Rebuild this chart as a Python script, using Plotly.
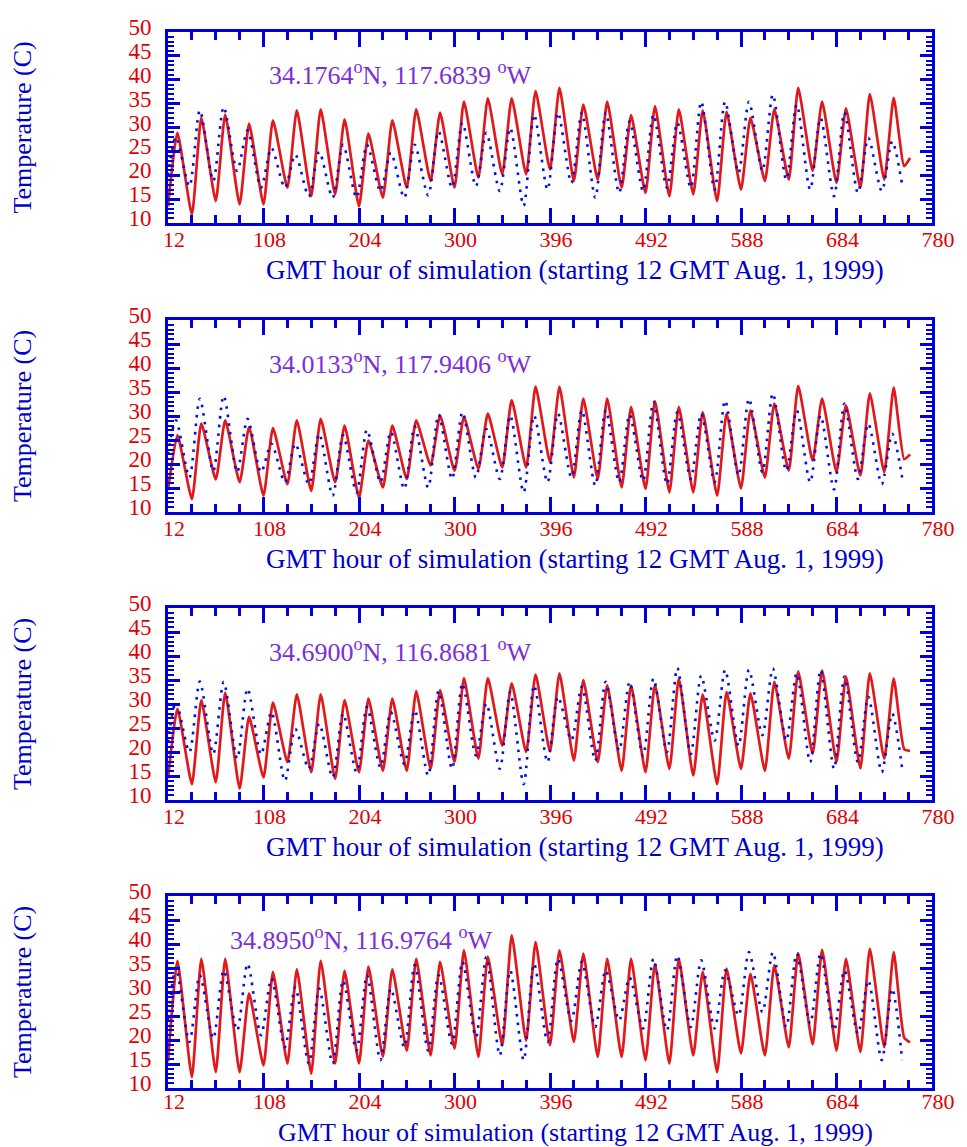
import plotly.graph_objects as go

# ---------------- data ----------------
N_DAYS = 31
START_HOUR = 12
RED_PEAK_H0, RED_TROUGH_H0 = 21.5, 36.0
BLUE_PEAK_H0, BLUE_TROUGH_H0 = 20.0, 33.5
RED_TAIL_HOURS = [752, 758]
BLUE_END_HOUR = 750

LABELS = [
    "34.1764<sup>o</sup>N, 117.6839 <sup>o</sup>W",
    "34.0133<sup>o</sup>N, 117.9406 <sup>o</sup>W",
    "34.6900<sup>o</sup>N, 116.8681 <sup>o</sup>W",
    "34.8950<sup>o</sup>N, 116.9764 <sup>o</sup>W",
]

# Panel 1
R1_START = 13.5
R1_MAX = [28.9, 32.0, 32.7, 30.8, 31.5, 33.6, 33.8, 31.7, 28.7, 31.5, 33.8, 33.1, 35.4, 36.1, 36.1, 37.6,
          38.3, 34.8, 35.4, 32.6, 34.5, 33.8, 33.6, 33.3, 32.0, 33.8, 38.3, 35.4, 34.0, 37.0, 36.2]
R1_MIN = [11.8, 14.6, 13.9, 13.9, 17.4, 15.6, 16.0, 13.5, 15.3, 17.4, 18.8, 17.4, 19.5, 20.2, 20.2,
          21.2, 18.8, 19.1, 17.4, 16.3, 15.6, 16.0, 14.6, 17.0, 18.8, 19.1, 20.9, 18.4, 17.4, 19.1]
R1_TAIL = [21.9, 23.6]
B1_START, B1_END = 20.0, 18.0
B1_MAX = [28.0, 33.6, 34.3, 29.4, 25.7, 24.3, 24.9, 26.4, 26.4, 24.7, 26.4, 29.2, 31.0, 28.9, 29.9, 32.7,
          33.1, 33.1, 33.1, 31.3, 32.7, 31.0, 35.4, 35.4, 35.4, 36.9, 34.8, 32.0, 33.1, 27.8, 27.1]
B1_MIN = [17.7, 18.8, 20.9, 17.4, 17.4, 15.6, 15.3, 15.3, 16.7, 15.3, 15.8, 17.4, 17.7, 16.7, 13.6,
          17.0, 18.4, 15.3, 16.3, 16.7, 17.4, 17.4, 17.0, 20.5, 20.9, 19.1, 17.0, 15.6, 16.3, 16.7]

# Panel 2
R2_START = 14.5
R2_MAX = [26.0, 28.4, 29.1, 27.7, 27.5, 29.1, 29.4, 28.0, 24.9, 28.0, 29.1, 30.1, 29.8, 30.5, 33.3, 36.1,
          36.1, 33.6, 33.6, 31.9, 33.1, 31.9, 30.8, 30.5, 31.2, 32.6, 36.3, 33.6, 32.2, 34.7, 35.9]
R2_MIN = [12.7, 16.8, 16.2, 13.4, 15.8, 14.4, 16.2, 13.0, 15.1, 16.9, 19.7, 18.6, 19.0, 19.3, 19.3,
          20.4, 17.2, 16.9, 15.1, 14.8, 14.1, 14.1, 13.4, 14.9, 17.2, 18.6, 20.7, 18.3, 17.6, 18.3]
R2_TAIL = [21.0, 22.0]
B2_START, B2_END = 22.0, 17.2
B2_MAX = [29.1, 33.6, 34.2, 29.4, 24.2, 24.2, 26.3, 26.0, 27.1, 26.7, 27.8, 30.3, 30.8, 27.3, 30.1, 30.1,
          30.5, 31.2, 31.2, 30.3, 32.9, 30.8, 30.5, 33.2, 33.6, 34.7, 31.2, 30.1, 32.6, 28.4, 26.3]
B2_MIN = [17.2, 18.5, 18.3, 18.3, 16.2, 15.8, 13.4, 14.1, 16.2, 14.8, 15.1, 16.9, 17.2, 16.9, 14.1,
          16.2, 17.2, 15.5, 16.2, 16.5, 15.8, 16.9, 16.2, 17.6, 18.3, 18.6, 16.2, 14.7, 16.9, 15.8]

# Panel 3
R3_START = 14.5
R3_MAX = [29.0, 30.8, 32.4, 27.3, 30.3, 32.0, 32.0, 30.8, 31.1, 31.1, 32.7, 32.9, 35.4, 35.4, 34.3, 36.1,
          36.4, 35.0, 33.9, 33.9, 34.0, 35.3, 32.0, 32.5, 32.2, 34.6, 36.8, 37.0, 35.7, 36.4, 35.3]
R3_MIN = [13.3, 13.7, 12.4, 14.7, 17.9, 15.8, 14.4, 15.8, 16.1, 16.1, 16.5, 17.9, 18.6, 21.3, 20.0,
          20.1, 18.2, 17.9, 16.1, 15.8, 16.5, 15.1, 13.3, 16.5, 16.1, 18.6, 19.6, 17.9, 16.6, 18.6]
R3_TAIL = [20.6, 20.2]
B3_START, B3_END = 22.0, 16.5
B3_MAX = [30.4, 34.7, 34.6, 33.2, 28.3, 24.8, 25.9, 28.0, 29.4, 28.3, 28.7, 32.7, 34.3, 30.1, 32.5, 33.9,
          31.5, 33.6, 34.6, 34.6, 35.3, 37.5, 35.9, 37.1, 37.1, 37.4, 36.4, 37.1, 35.7, 31.5, 28.0]
B3_MIN = [20.0, 19.6, 18.6, 19.5, 14.0, 16.5, 14.7, 15.8, 16.8, 17.5, 15.1, 16.5, 19.3, 16.5, 13.3,
          17.9, 22.5, 18.2, 20.3, 19.2, 20.0, 19.6, 22.4, 21.3, 23.5, 22.4, 17.9, 16.5, 17.9, 15.8]

# Panel 4
R4_START = 15.5
R4_MAX = [36.5, 36.9, 36.9, 29.7, 34.2, 34.7, 36.5, 34.4, 35.3, 34.7, 36.9, 36.3, 38.7, 37.4, 41.8, 40.4,
          38.7, 38.0, 36.9, 36.9, 35.8, 36.9, 34.2, 34.9, 33.8, 35.6, 38.1, 38.8, 36.9, 39.0, 38.3]
R4_MIN = [12.3, 13.3, 13.3, 14.7, 15.1, 13.0, 15.1, 15.1, 16.5, 17.8, 16.8, 18.2, 16.5, 18.9, 19.9,
          18.9, 19.6, 16.5, 16.5, 15.8, 15.1, 16.8, 13.3, 17.2, 16.8, 18.5, 19.1, 17.8, 17.5, 18.5]
R4_TAIL = [20.5, 19.5]
B4_START, B4_END = 24.0, 15.8
B4_MAX = [35.1, 33.5, 34.5, 35.9, 32.8, 31.0, 30.7, 32.4, 33.5, 30.7, 35.6, 33.5, 36.3, 37.3, 34.5, 35.9,
          36.9, 36.3, 34.5, 33.0, 36.9, 37.6, 36.6, 34.5, 38.3, 38.3, 38.0, 38.0, 34.5, 32.4, 30.7]
B4_MIN = [19.6, 20.3, 22.0, 21.0, 18.5, 15.1, 15.1, 17.8, 15.8, 18.5, 17.8, 19.2, 20.6, 16.8, 15.8,
          19.6, 24.0, 22.7, 24.1, 22.4, 22.0, 22.7, 22.4, 25.1, 25.8, 22.7, 23.4, 22.0, 21.3, 15.8]

PANELS = [
    dict(r_start=R1_START, r_max=R1_MAX, r_min=R1_MIN, r_tail=R1_TAIL,
         b_start=B1_START, b_max=B1_MAX, b_min=B1_MIN, b_end=B1_END),
    dict(r_start=R2_START, r_max=R2_MAX, r_min=R2_MIN, r_tail=R2_TAIL,
         b_start=B2_START, b_max=B2_MAX, b_min=B2_MIN, b_end=B2_END),
    dict(r_start=R3_START, r_max=R3_MAX, r_min=R3_MIN, r_tail=R3_TAIL,
         b_start=B3_START, b_max=B3_MAX, b_min=B3_MIN, b_end=B3_END),
    dict(r_start=R4_START, r_max=R4_MAX, r_min=R4_MIN, r_tail=R4_TAIL,
         b_start=B4_START, b_max=B4_MAX, b_min=B4_MIN, b_end=B4_END),
]

# ---------------- styling ----------------
W, H = 967, 1147
FONT = "Liberation Serif, Times New Roman, serif"
AX_BLUE = "#0000dd"
TXT_BLUE = "#0000cc"
RED = "#e01a1a"
TICK_RED = "#e00000"
PURPLE = "#7b2fd6"
DOT_BLUE = "#0010e0"

TOPS = [32, 320, 608, 896]
BOTS = [223, 512, 800, 1088]
XTITLE_OFFSETS = [47, 47, 47, 44]
XTITLE_SIZES = [27, 27, 27, 26]
XLABEL_STANDOFF = [-5, -5, -5, -8]
X0, X1 = 168, 932


def build(start, maxs, mins, peak_h0, trough_h0):
    xs, ys = [START_HOUR], [start]
    for k in range(len(maxs)):
        xs.append(peak_h0 + 24 * k)
        ys.append(maxs[k])
        if k < len(mins):
            xs.append(trough_h0 + 24 * k)
            ys.append(mins[k])
    return xs, ys


fig = go.Figure()
annotations = []
for i, p in enumerate(PANELS):
    suf = "" if i == 0 else str(i + 1)
    rx, ry = build(p["r_start"], p["r_max"], p["r_min"], RED_PEAK_H0, RED_TROUGH_H0)
    rx += RED_TAIL_HOURS
    ry += p["r_tail"]
    bx, by = build(p["b_start"], p["b_max"], p["b_min"], BLUE_PEAK_H0, BLUE_TROUGH_H0)
    bx.append(BLUE_END_HOUR)
    by.append(p["b_end"])

    fig.add_trace(go.Scatter(x=rx, y=ry, mode="lines", xaxis="x" + suf, yaxis="y" + suf,
                             line=dict(color=RED, width=2.7, shape="spline", smoothing=0.5),
                             showlegend=False, hoverinfo="skip"))
    fig.add_trace(go.Scatter(x=bx, y=by, mode="lines", xaxis="x" + suf, yaxis="y" + suf,
                             line=dict(color=DOT_BLUE, width=2.6, dash="2.6px,6px",
                                       shape="spline", smoothing=0.8),
                             showlegend=False, hoverinfo="skip"))

    ydom = [1 - BOTS[i] / H, 1 - TOPS[i] / H]
    common = dict(showline=True, linecolor=AX_BLUE, linewidth=3, mirror="ticks",
                  showgrid=False, zeroline=False, ticks="inside", tickcolor=AX_BLUE,
                  tickwidth=2.5, automargin=False)
    fig.update_layout(**{
        "xaxis" + suf: dict(common, domain=[X0 / W, X1 / W], range=[12, 780],
                            tick0=12, dtick=96, ticklen=15, anchor="y" + suf,
                            tickfont=dict(family=FONT, size=22, color=TICK_RED),
                            ticklabelshift=6, ticklabelstandoff=XLABEL_STANDOFF[i],
                            minor=dict(tick0=12, dtick=24, ticks="inside", ticklen=8,
                                       tickwidth=2.5, tickcolor=AX_BLUE)),
        "yaxis" + suf: dict(common, domain=ydom, range=[10, 50],
                            tick0=10, dtick=5, ticklen=12, anchor="x" + suf,
                            tickfont=dict(family=FONT, size=23, color=TICK_RED),
                            ticklabelshift=-5, ticklabelstandoff=9,
                            minor=dict(tick0=10, dtick=1, ticks="inside", ticklen=6,
                                       tickwidth=2, tickcolor=AX_BLUE)),
    })

    ymid = (TOPS[i] + BOTS[i]) / 2
    annotations.append(dict(x=22 / W, y=1 - ymid / H, xref="paper", yref="paper",
                            text="Temperature (C)", textangle=-90, showarrow=False,
                            font=dict(family=FONT, size=26, color=TXT_BLUE),
                            xanchor="center", yanchor="middle"))
    annotations.append(dict(x=575 / W, y=1 - (BOTS[i] + XTITLE_OFFSETS[i]) / H,
                            xref="paper", yref="paper",
                            text="GMT hour of simulation (starting 12 GMT Aug. 1, 1999)",
                            showarrow=False,
                            font=dict(family=FONT, size=XTITLE_SIZES[i], color=TXT_BLUE),
                            xanchor="center", yanchor="middle"))
    lx = 228 if i == 3 else 267
    annotations.append(dict(x=lx / W, y=1 - (TOPS[i] + 42) / H, xref="paper", yref="paper",
                            text=LABELS[i], showarrow=False,
                            font=dict(family=FONT, size=26, color=PURPLE),
                            xanchor="left", yanchor="middle"))

fig.update_layout(width=W, height=H, margin=dict(l=0, r=0, t=0, b=0),
                  paper_bgcolor="white", plot_bgcolor="white",
                  annotations=annotations, showlegend=False)
fig.write_html("out.html")
